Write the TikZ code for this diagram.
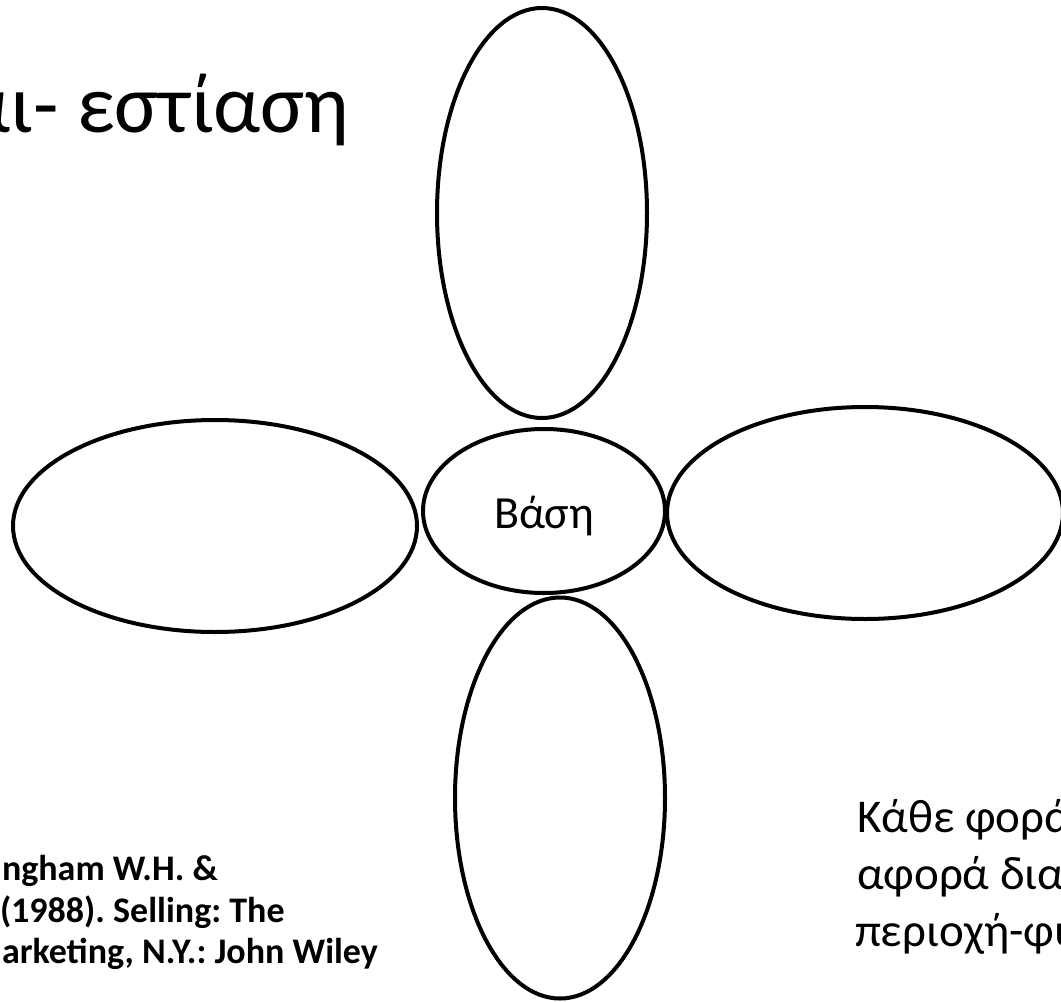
\documentclass[tikz,border=0pt]{standalone}
\usepackage{fontspec}
\setmainfont{Carlito}
\usetikzlibrary{shapes.geometric}
\frenchspacing
\tikzset{
  petal/.style={draw=black, line width=4pt, ellipse, inner sep=0pt, fill=none},
  txt/.style={inner sep=0pt, outer sep=0pt, text=black},
}
\begin{document}
\begin{tikzpicture}[x=1pt,y=-1pt]
\useasboundingbox (0,0) rectangle (1061,1002);
\clip (0,0) rectangle (1061,1002);
\fill[white] (0,0) rectangle (1061,1002);
% petals
\node[petal, minimum width=210pt, minimum height=410pt] (top) at (542,213) {};
\node[petal, minimum width=210pt, minimum height=401pt] (bottom) at (560,798) {};
\node[petal, minimum width=404pt, minimum height=212pt] (left) at (215,526) {};
\node[petal, minimum width=396pt, minimum height=212pt] (right) at (865,513) {};
\node[petal, minimum width=242pt, minimum height=164pt] (core) at (544,511) {};
\node[txt, anchor=base] (corelabel) at (544,528) {\fontsize{46}{50}\selectfont Βάση};
% title
\node[txt, anchor=base east] (title) at (349,132) {\fontsize{83}{100}\selectfont αι- εστίαση};
% reference
\node[txt, anchor=base west] (ref1) at (2,880) {\fontsize{36}{42}\selectfont\bfseries ngham W.H. \&};
\node[txt, anchor=base west] (ref2) at (0,922) {\fontsize{36}{42}\selectfont\bfseries (1988). Selling: The};
\node[txt, anchor=base west] (ref3) at (2,963) {\fontsize{36}{42}\selectfont\bfseries arketing, N.Y.: John Wiley};
% note
\node[txt, anchor=base west] (note1) at (857,832) {\fontsize{47}{56}\selectfont Κάθε φορά};
\node[txt, anchor=base west] (note2) at (857,889) {\fontsize{47}{56}\selectfont αφορά δια};
\node[txt, anchor=base west] (note3) at (855,946) {\fontsize{47}{56}\selectfont περιοχή-φυ};
\end{tikzpicture}
\end{document}
